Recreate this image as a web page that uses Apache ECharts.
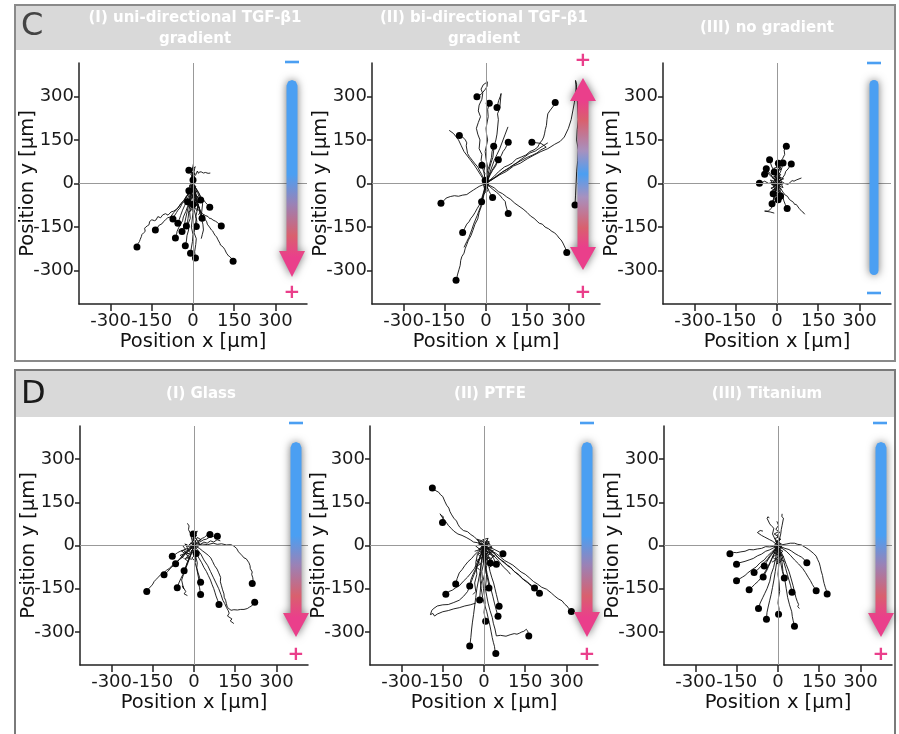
<!DOCTYPE html>
<html lang="en">
<head>
<meta charset="UTF-8">
<title>Cell migration tracks</title>
<script src="https://cdn.jsdelivr.net/npm/echarts@6/dist/echarts.min.js"></script>
<style>
  html, body { margin: 0; padding: 0; background: #fff; }
  #chart { width: 899px; height: 734px; }
</style>
</head>
<body>
<div id="chart"></div>
<script>
// tick values shared by all axes (µm)
var axisTicks = [-300, -150, 0, 150, 300];
var axisRange = 415;

var titlesC = ['(I) uni-directional TGF-β1\ngradient', '(II) bi-directional TGF-β1\ngradient', '(III) no gradient'];
var titlesD = ['(I) Glass', '(II) PTFE', '(III) Titanium'];

// ---- C (I) uni-directional: tracks end with a dot, trails don't
var tracksC1 = [
  [[0,0],[-4,12],[2,22],[-8,30],[-4,36],[-6,40],[-15,46]],
  [[0,0],[-6,-12],[-4,-25],[-15,-35],[-25,-45],[-32,-58],[-45,-70],[-55,-85],[-70,-95],[-80,-98],[-91,-109],[-100,-104],[-110,-108],[-118,-118],[-128,-114],[-135,-126],[-140,-128],[-150,-125],[-158,-131],[-160,-142],[-165,-145],[-172,-150],[-176,-154],[-174,-165],[-180,-170],[-186,-176],[-188,-183],[-192,-192],[-195,-200],[-200,-207],[-198,-213],[-204,-219]],
  [[0,0],[-8,-15],[-15,-30],[-22,-42],[-35,-60],[-44,-70],[-60,-90],[-70,-100],[-82,-115],[-92,-118],[-100,-125],[-108,-132],[-112,-138],[-125,-145],[-130,-154],[-137,-160]],
  [[0,0],[-4,-20],[-8,-40],[-14,-58],[-20,-80],[-26,-96],[-35,-115],[-38,-128],[-45,-140],[-52,-152],[-58,-165],[-60,-176],[-64,-188]],
  [[0,0],[-6,-14],[-12,-30],[-22,-44],[-30,-60],[-40,-70],[-48,-85],[-55,-92],[-60,-100],[-68,-112],[-73,-122]],
  [[0,0],[-5,-50],[-2,-70],[-12,-100],[-10,-120],[-18,-140],[-16,-160],[-22,-180],[-24,-198],[-28,-214]],
  [[0,0],[4,-50],[-2,-75],[0,-100],[-6,-150],[0,-175],[-2,-200],[-6,-222],[-9,-240]],
  [[0,0],[8,-60],[4,-90],[12,-120],[8,-145],[4,-170],[12,-190],[10,-210],[6,-235],[9,-257]],
  [[0,0],[4,-20],[10,-40],[8,-55],[22,-80],[26,-95],[31,-109],[40,-118],[45,-125],[50,-132],[52,-140],[60,-150],[67,-160],[72,-164],[75,-170],[80,-178],[86,-184],[91,-194],[98,-206],[100,-212],[105,-215],[112,-222],[116,-228],[120,-236],[122,-240],[130,-250],[134,-252],[140,-258],[142,-264],[146,-268]],
  [[0,0],[8,-40],[14,-62],[20,-80],[28,-96],[35,-105],[45,-110],[55,-114],[62,-122],[65,-120],[73,-126],[82,-130],[90,-135],[96,-142],[103,-146]],
  [[0,0],[8,-12],[15,-25],[22,-34],[28,-45],[38,-56],[45,-65],[52,-72],[61,-82]],
  [[0,0],[8,-15],[12,-26],[18,-35],[22,-46],[28,-57]],
  [[0,0],[-6,-20],[-4,-30],[-12,-40],[-14,-52],[-20,-63]],
  [[0,0],[6,-40],[12,-60],[18,-80],[14,-98],[10,-115],[14,-130],[12,-148]],
  [[0,0],[12,-40],[15,-58],[20,-75],[24,-98],[33,-120]],
  [[0,0],[-6,-40],[-10,-62],[-14,-90],[-18,-120],[-20,-132],[-24,-146]],
  [[0,0],[-10,-50],[-16,-74],[-22,-100],[-30,-135],[-34,-150],[-40,-165]],
  [[0,0],[-15,-40],[-22,-58],[-30,-75],[-38,-92],[-45,-110],[-50,-124],[-55,-137]],
  [[0,0],[-6,-10],[-12,-5],[-15,-25]],
  [[0,0],[5,-12],[-4,-22],[3,-34],[-3,-48],[6,-60],[0,-72]],
  [[0,0],[-3,10],[4,18],[-2,26],[0,12]]
];
var trailsC1 = [
  [[0,0],[6,15],[4,24],[10,30],[16,43],[20,35],[24,40],[30,40],[38,36],[45,38],[55,35],[63,36]],
  [[0,0],[10,-15],[20,-30],[28,-50],[35,-70],[32,-95],[30,-120],[36,-140],[38,-160],[34,-175],[30,-190]],
  [[0,0],[5,10],[-2,25],[3,40],[-1,55],[2,70]],
  [[0,0],[5,15],[-3,30],[4,45],[-2,55],[3,35],[-5,20],[2,8]],
  [[0,0],[3,-20],[-6,-35],[5,-55],[-2,-70],[8,-85],[15,-95]],
  [[0,0],[-4,-12],[6,-25],[-2,-40],[10,-52],[4,-64],[16,-75]],
  [[0,0],[4,8],[-5,14],[3,22],[-4,30],[2,12],[-3,-8]],
  [[0,0],[-8,6],[6,14],[-6,24],[8,32],[-4,40],[6,20],[-10,-6],[8,-14],[-6,-24],[10,-30]],
  [[0,0],[10,-10],[-4,-18],[14,-28],[0,-36],[18,-46],[6,-56],[22,-64],[10,-74],[24,-84]],
  [[0,0],[-10,-12],[4,-24],[-12,-34],[2,-46],[-14,-56],[0,-66],[-16,-78],[-4,-90],[-18,-100]],
  [[0,0],[6,-30],[16,-48],[8,-62],[20,-74],[14,-88],[28,-96],[20,-108]],
  [[0,0],[-4,20],[6,34],[-2,48],[8,58],[0,30],[10,10],[-6,-4]]
];

// ---- C (II) bi-directional
var tracksC2 = [
  [[0,0],[-8,40],[-4,60],[-18,80],[-15,100],[-25,120],[-22,150],[-30,170],[-35,190],[-28,210],[-20,230],[-28,250],[-25,270],[-15,290],[-12,310],[-18,325],[-10,340],[5,350],[4,335],[-2,325],[-15,310],[-22,305],[-33,299]],
  [[0,0],[5,60],[0,85],[-3,110],[6,150],[2,170],[0,190],[8,230],[6,255],[12,276]],
  [[0,0],[12,50],[18,70],[25,90],[30,130],[36,150],[40,170],[45,220],[42,240],[50,260],[55,310],[52,300],[46,285],[40,262]],
  [[0,0],[30,25],[45,40],[67,57],[80,62],[95,70],[110,84],[128,91],[145,98],[160,110],[175,116],[188,125],[195,138],[205,150],[210,160],[213,171],[216,186],[220,200],[222,220],[225,240],[232,250],[240,260],[248,270],[252,279]],
  [[0,0],[-15,30],[-22,42],[-30,57],[-42,70],[-50,80],[-60,92],[-67,103],[-72,130],[-70,140],[-75,150],[-85,160],[-97,165]],
  [[0,0],[8,30],[5,45],[12,60],[20,90],[22,110],[28,128]],
  [[0,0],[15,30],[24,45],[35,60],[44,80],[55,95],[62,110],[70,120],[76,132],[81,142]],
  [[0,0],[40,25],[60,40],[80,50],[100,64],[120,75],[150,90],[170,98],[185,105],[200,116],[219,125],[210,132],[200,138],[185,140],[167,142]],
  [[0,0],[12,25],[18,40],[25,50],[35,66],[45,82]],
  [[0,0],[-6,25],[-4,35],[-10,45],[-15,63]],
  [[0,0],[-25,-10],[-35,-16],[-45,-22],[-58,-30],[-70,-38],[-85,-40],[-100,-44],[-115,-42],[-130,-45],[-145,-50],[-150,-56],[-155,-60],[-164,-68]],
  [[0,0],[-4,-20],[-2,-30],[-10,-40],[-16,-63]],
  [[0,0],[8,-20],[12,-28],[16,-35],[24,-48]],
  [[0,0],[25,-20],[38,-30],[50,-40],[60,-52],[70,-62],[72,-74],[75,-85],[81,-103]],
  [[0,0],[-12,-40],[-18,-58],[-25,-75],[-32,-86],[-40,-100],[-48,-112],[-55,-120],[-62,-132],[-70,-140],[-78,-155],[-85,-169]],
  [[0,0],[-10,-50],[-16,-76],[-25,-100],[-30,-122],[-40,-140],[-48,-162],[-55,-180],[-64,-195],[-70,-210],[-76,-225],[-80,-240],[-88,-252],[-92,-265],[-94,-282],[-98,-295],[-104,-315],[-106,-325],[-109,-333]],
  [[0,0],[30,-15],[45,-28],[60,-35],[75,-46],[90,-55],[105,-68],[120,-78],[135,-88],[150,-100],[162,-112],[175,-120],[186,-130],[194,-137],[205,-140],[215,-150],[228,-156],[240,-165],[250,-170],[260,-180],[266,-188],[273,-194],[280,-205],[285,-215],[290,-225],[294,-238]],
  [[0,0],[50,30],[75,42],[100,60],[125,70],[150,85],[175,98],[200,110],[225,120],[250,135],[270,145],[285,160],[300,190],[310,220],[316,250],[322,280],[326,310],[330,340],[326,355],[328,330],[332,300],[334,260],[336,220],[332,185],[330,150],[336,115],[334,80],[330,40],[328,0],[326,-40],[324,-74]],
  [[0,0],[-5,12],[4,25],[-3,10]]
];
var trailsC2 = [
  [[0,0],[-10,-40],[-20,-80],[-32,-110],[-45,-140],[-52,-160],[-62,-185],[-70,-200],[-80,-220]],
  [[0,0],[30,20],[60,40],[85,55],[110,70],[135,88],[160,105],[180,112],[200,125],[225,140]],
  [[0,0],[-20,30],[-40,60],[-60,85],[-80,110],[-90,130],[-100,150],[-118,172],[-134,183]],
  [[0,0],[15,40],[30,80],[40,100],[50,120],[62,150],[70,170],[80,195]],
  [[0,0],[8,-10],[-6,-18],[4,-28],[-8,-12],[6,4],[-4,10]],
  [[0,0],[-4,8],[6,16],[-2,-10],[8,-20],[0,-30]],
  [[0,0],[10,-4],[-8,6],[12,12],[-10,-8],[6,-14],[-12,2],[8,20],[-6,-22]]
];

// ---- C (III) no gradient
var tracksC3 = [
  [[0,0],[8,20],[5,45],[15,60],[10,72],[20,85],[28,100],[26,115],[34,128]],
  [[0,0],[-8,20],[-6,32],[-12,45],[-20,60],[-27,82]],
  [[0,0],[-10,15],[-22,30],[-30,40],[-39,51]],
  [[0,0],[-15,5],[-30,0],[-45,8],[-55,3],[-64,1]],
  [[0,0],[8,18],[4,28],[12,38],[18,55],[22,71]],
  [[0,0],[15,12],[28,30],[32,42],[40,50],[52,67]],
  [[0,0],[8,-20],[20,-40],[25,-60],[30,-72],[37,-86]],
  [[0,0],[-4,-20],[-10,-40],[-12,-55],[-18,-70]],
  [[0,0],[4,-15],[8,-30],[13,-43]],
  [[0,0],[10,25],[0,40],[12,55],[5,70]],
  [[0,0],[-12,-12],[-5,-25],[-14,-35]],
  [[0,0],[-8,12],[-18,22],[-28,30],[-34,40],[-45,32]],
  [[0,0],[6,-10],[-4,-22],[6,-34],[-2,-48],[4,-56]],
  [[0,0],[-6,8],[4,16],[-8,24],[2,34],[-10,40]]
];
var trailsC3 = [
  [[0,0],[15,-20],[22,-30],[30,-40],[38,-44],[45,-55],[60,-65],[64,-72],[70,-72],[80,-85],[84,-90],[90,-95],[94,-98],[101,-106]],
  [[0,0],[20,5],[28,0],[40,-3],[55,10],[62,8],[70,12],[89,19]],
  [[0,0],[-6,-30],[-15,-60],[-20,-85],[-32,-95],[-45,-95],[-25,-98],[-10,-102]],
  [[0,0],[6,12],[-6,20],[8,30],[-4,42],[10,52],[-2,60],[6,40],[-8,25],[4,10]],
  [[0,0],[-6,-8],[8,-16],[-8,-26],[6,-36],[-6,-44],[4,-20],[-4,-6]],
  [[0,0],[10,6],[-10,12],[12,18],[-6,24],[8,-6],[-12,-4],[10,-14]],
  [[0,0],[4,20],[-6,36],[2,50],[10,64],[0,78]],
  [[0,0],[-4,-14],[10,-30],[-2,-40],[12,-50],[2,-62]],
  [[0,0],[-14,4],[-4,14],[-18,20],[-2,28],[-16,36],[0,44],[-12,52],[4,58]],
  [[0,0],[14,-4],[2,-12],[16,-20],[4,-28],[18,-36],[6,-44],[20,-52],[8,-60]],
  [[0,0],[-12,-6],[-2,-16],[-16,-24],[-4,-34],[-18,-40],[-6,-50],[-14,-58]],
  [[0,0],[12,8],[0,20],[14,30],[2,42],[16,50],[4,60],[18,66]],
  [[0,0],[-20,-4],[-10,8],[-24,12],[-8,-10],[-22,-16],[-6,-24],[-20,4]],
  [[0,0],[18,2],[6,-8],[22,-14],[8,10],[24,16],[10,22],[20,-4]]
];

// ---- D (I) Glass
var tracksD1 = [
  [[0,0],[15,10],[25,14],[35,20],[45,22],[55,28],[70,32],[85,32]],
  [[0,0],[15,15],[30,25],[38,28],[45,35],[58,38]],
  [[0,0],[30,5],[50,3],[70,8],[85,4],[100,6],[118,2],[134,3],[145,-2],[155,-10],[162,-22],[170,-30],[176,-36],[182,-43],[190,-46],[200,-60],[204,-70],[205,-80],[212,-92],[210,-100],[214,-112],[215,-120],[210,-126],[212,-132]],
  [[0,0],[20,-10],[30,-18],[40,-25],[52,-34],[61,-43],[68,-56],[75,-70],[84,-82],[90,-95],[97,-111],[96,-126],[100,-140],[104,-154],[109,-168],[110,-180],[115,-190],[118,-202],[121,-214],[128,-220],[135,-225],[145,-223],[158,-224],[170,-222],[182,-222],[194,-219],[202,-214],[210,-210],[216,-202],[221,-197]],
  [[0,0],[10,-30],[18,-44],[28,-60],[36,-76],[45,-90],[52,-104],[60,-120],[66,-136],[72,-150],[76,-162],[80,-175],[86,-190],[91,-205]],
  [[0,0],[6,-40],[4,-60],[10,-80],[18,-120],[16,-132],[20,-145],[24,-170]],
  [[0,0],[4,-30],[12,-60],[10,-78],[15,-95],[20,-110],[24,-128]],
  [[0,0],[-10,-30],[-16,-44],[-25,-60],[-35,-90],[-40,-100],[-48,-115],[-55,-130],[-61,-147]],
  [[0,0],[-20,-20],[-30,-26],[-40,-40],[-52,-48],[-65,-60],[-78,-68],[-90,-80],[-100,-86],[-110,-95],[-120,-100],[-130,-110],[-138,-118],[-145,-125],[-150,-134],[-155,-140],[-165,-150],[-172,-160]],
  [[0,0],[-25,-20],[-38,-30],[-50,-45],[-62,-56],[-75,-70],[-85,-78],[-95,-90],[-109,-102]],
  [[0,0],[-20,-10],[-30,-12],[-40,-18],[-50,-20],[-60,-25],[-70,-32],[-79,-37]],
  [[0,0],[-20,-20],[-28,-26],[-40,-35],[-55,-50],[-67,-63]],
  [[0,0],[-10,-25],[-20,-50],[-24,-60],[-28,-70],[-36,-88]],
  [[0,0],[-4,15],[2,28],[-3,40]],
  [[0,0],[5,-10],[-4,-20],[8,-28]]
];
var trailsD1 = [
  [[0,0],[25,-30],[36,-50],[50,-70],[60,-90],[70,-110],[80,-130],[90,-150],[98,-170],[105,-190],[112,-202],[118,-215],[124,-225],[128,-235],[122,-245],[138,-255],[132,-262],[145,-271]],
  [[0,0],[-8,20],[-12,40],[-20,55],[-18,68],[-24,77]],
  [[0,0],[-15,-40],[-22,-60],[-30,-80],[-38,-100],[-45,-120],[-38,-150],[-42,-140],[-30,-160],[-36,-168],[-24,-174]],
  [[0,0],[8,12],[-6,22],[6,30],[-8,38],[4,24],[-10,10],[2,-8],[-12,-20],[4,-32],[-8,-44],[6,-55]],
  [[0,0],[-12,8],[-22,-4],[-32,6],[-20,-16],[-36,-22],[-16,-30],[-28,-42],[-8,-48]],
  [[0,0],[10,-6],[22,2],[14,14],[26,20],[12,28],[4,10]],
  [[0,0],[-6,10],[-18,2],[-8,-10],[-24,-14],[-12,-26],[-30,-30],[-16,-40],[-34,-46],[-20,-56]],
  [[0,0],[6,16],[-4,26],[10,34],[-2,44],[12,50],[2,30],[14,16]],
  [[0,0],[-16,-6],[-26,4],[-40,-2],[-30,-14],[-46,-18],[-34,-28],[-50,-34],[-38,-44]],
  [[0,0],[12,8],[24,4],[36,12],[48,8],[60,16],[72,12],[84,20],[96,16]]
];

// ---- D (II) PTFE
var tracksD2 = [
  [[0,0],[-15,15],[-25,20],[-35,30],[-48,38],[-60,48],[-75,52],[-88,63],[-95,74],[-100,85],[-110,95],[-119,109],[-124,118],[-128,130],[-136,140],[-143,154],[-150,170],[-158,176],[-165,185],[-175,190],[-188,200]],
  [[0,0],[-25,10],[-38,12],[-50,20],[-65,28],[-80,35],[-95,40],[-110,50],[-120,60],[-130,70],[-140,84],[-150,95],[-160,110],[-155,104],[-148,100],[-151,80]],
  [[0,0],[20,-8],[30,-10],[40,-15],[55,-22],[69,-29]],
  [[0,0],[-20,-20],[-32,-30],[-45,-45],[-58,-56],[-70,-70],[-80,-84],[-90,-95],[-98,-115],[-103,-134]],
  [[0,0],[-15,-40],[-24,-58],[-35,-80],[-48,-96],[-60,-110],[-75,-124],[-90,-140],[-102,-146],[-115,-155],[-128,-160],[-139,-169]],
  [[0,0],[-10,-30],[-18,-50],[-25,-70],[-32,-84],[-40,-100],[-48,-120],[-52,-141]],
  [[0,0],[4,-30],[10,-70],[6,-90],[12,-110],[16,-130],[18,-148]],
  [[0,0],[-4,-40],[-2,-64],[-8,-90],[-6,-115],[-12,-140],[-14,-164],[-16,-189]],
  [[0,0],[10,-40],[16,-64],[22,-90],[28,-110],[35,-130],[40,-150],[45,-170],[50,-190],[55,-211]],
  [[0,0],[6,-50],[4,-76],[12,-100],[18,-126],[25,-150],[32,-176],[38,-200],[44,-222],[51,-246]],
  [[0,0],[-2,-50],[4,-76],[2,-100],[-4,-124],[-2,-150],[2,-176],[4,-200],[0,-232],[6,-263]],
  [[0,0],[20,-15],[30,-20],[40,-30],[50,-42],[62,-50],[75,-58],[85,-70],[98,-78],[110,-90],[125,-102],[140,-115],[152,-122],[165,-132],[175,-140],[184,-148]],
  [[0,0],[25,-20],[38,-28],[50,-40],[65,-54],[80,-65],[95,-74],[110,-90],[128,-102],[145,-120],[160,-130],[175,-145],[190,-154],[202,-166]],
  [[0,0],[30,-20],[45,-28],[60,-40],[75,-52],[90,-60],[105,-68],[120,-80],[135,-92],[150,-100],[165,-112],[180,-125],[195,-134],[210,-145],[228,-152],[245,-165],[258,-176],[270,-185],[284,-192],[295,-205],[302,-210],[308,-218],[312,-224],[318,-229]],
  [[0,0],[5,-40],[2,-64],[10,-90],[8,-120],[5,-150],[10,-176],[15,-200],[22,-226],[30,-250],[34,-270],[40,-290],[45,-314],[60,-312],[80,-315],[95,-310],[110,-306],[120,-308],[130,-304],[138,-300],[145,-298],[150,-294],[154,-291],[158,-296],[160,-300],[163,-314]],
  [[0,0],[-10,-60],[-14,-90],[-20,-120],[-26,-150],[-30,-180],[-34,-210],[-38,-240],[-42,-266],[-45,-290],[-48,-320],[-50,-336],[-52,-349]],
  [[0,0],[-10,-60],[-12,-90],[-14,-120],[-10,-150],[-5,-180],[2,-206],[10,-230],[16,-256],[22,-280],[26,-300],[30,-320],[34,-336],[38,-350],[40,-364],[43,-375]],
  [[0,0],[10,-20],[14,-32],[18,-40],[23,-61]],
  [[0,0],[20,-20],[28,-34],[35,-45],[45,-65]]
];
var trailsD2 = [
  [[0,0],[-20,-60],[-30,-86],[-40,-110],[-50,-136],[-60,-160],[-74,-176],[-90,-190],[-110,-198],[-130,-205],[-150,-206],[-170,-210],[-182,-218],[-190,-225],[-195,-240],[-186,-236],[-180,-245],[-170,-238],[-150,-230],[-130,-226],[-110,-220],[-90,-216],[-70,-210],[-50,-206],[-30,-200]],
  [[0,0],[10,10],[-5,20],[15,25],[5,5],[-10,-5]],
  [[0,0],[-10,-6],[8,-14],[-14,-22],[10,-30],[-8,-40],[12,-48],[-4,-58],[14,-20],[-16,4],[6,12]],
  [[0,0],[20,6],[-6,14],[30,-8],[-20,-12],[24,-24],[-10,-32],[18,-44],[-4,-50]],
  [[0,0],[-24,-30],[-30,-60],[-26,-100],[-34,-130],[-30,-160],[-40,-170]],
  [[0,0],[30,-30],[50,-50],[70,-74],[88,-90],[96,-100]],
  [[0,0],[-16,-10],[-4,-22],[-22,-30],[-8,-44],[-28,-52],[-12,-64],[-30,-74],[-16,-84]],
  [[0,0],[16,-6],[4,-18],[22,-26],[10,-38],[28,-46],[14,-58],[32,-66],[18,-78]],
  [[0,0],[-20,10],[-6,16],[-26,22],[-12,4],[-30,-2],[-14,-14],[-34,-20]],
  [[0,0],[20,12],[8,18],[28,-4],[14,-12],[34,-18],[18,-30],[38,-36],[24,-46]]
];

// ---- D (III) Titanium
var tracksD3 = [
  [[0,0],[-30,-5],[-45,-4],[-60,-10],[-75,-12],[-90,-15],[-105,-14],[-120,-20],[-135,-22],[-150,-25],[-162,-24],[-175,-29]],
  [[0,0],[-30,-15],[-45,-20],[-60,-30],[-75,-36],[-90,-45],[-105,-50],[-120,-55],[-140,-60],[-151,-65]],
  [[0,0],[-25,-25],[-38,-36],[-50,-50],[-65,-60],[-80,-75],[-95,-84],[-110,-95],[-120,-104],[-130,-110],[-151,-122]],
  [[0,0],[-20,-25],[-30,-36],[-40,-50],[-50,-58],[-60,-70],[-75,-85],[-87,-94]],
  [[0,0],[-15,-20],[-22,-30],[-30,-40],[-42,-58],[-50,-71]],
  [[0,0],[-20,-40],[-30,-60],[-40,-80],[-50,-96],[-60,-110],[-72,-124],[-85,-135],[-95,-145],[-105,-154]],
  [[0,0],[-15,-30],[-22,-46],[-28,-60],[-34,-72],[-40,-85],[-54,-109]],
  [[0,0],[-10,-50],[-16,-76],[-25,-100],[-30,-124],[-40,-150],[-48,-166],[-55,-180],[-65,-200],[-71,-219]],
  [[0,0],[-5,-60],[-10,-90],[-15,-120],[-20,-146],[-25,-170],[-30,-190],[-35,-210],[-40,-232],[-42,-256]],
  [[0,0],[5,-50],[2,-76],[0,-100],[4,-130],[6,-160],[2,-180],[0,-200],[4,-220],[2,-239]],
  [[0,0],[8,-30],[12,-46],[15,-60],[18,-90],[23,-113]],
  [[0,0],[15,-40],[22,-60],[28,-80],[34,-100],[40,-120],[46,-140],[51,-162]],
  [[0,0],[25,-10],[40,-14],[50,-20],[62,-28],[75,-35],[85,-40],[95,-48],[105,-60]],
  [[0,0],[30,-20],[45,-34],[60,-50],[75,-64],[90,-80],[100,-94],[110,-110],[118,-122],[125,-135],[132,-146],[139,-157]],
  [[0,0],[30,5],[45,8],[60,8],[72,4],[85,2],[95,-4],[102,-8],[112,-14],[120,-20],[130,-28],[139,-37],[144,-48],[150,-60],[154,-74],[157,-88],[162,-104],[165,-120],[168,-132],[172,-145],[176,-156],[179,-168]],
  [[0,0],[10,-60],[16,-90],[25,-120],[30,-150],[35,-180],[42,-206],[50,-230],[52,-246],[55,-260],[60,-280]]
];
var trailsD3 = [
  [[0,0],[20,-40],[30,-66],[40,-90],[48,-116],[55,-140],[60,-160],[65,-180],[70,-194],[75,-205],[72,-212],[78,-219]],
  [[0,0],[-20,15],[-30,20],[-40,25],[-50,30],[-60,35],[-75,45],[-65,52],[-55,50]],
  [[0,0],[10,40],[12,56],[15,70],[20,95],[14,100],[15,110]],
  [[0,0],[-10,20],[-20,40],[-15,60],[-22,66],[-30,75],[-40,95],[-36,100],[-32,95]],
  [[0,0],[-10,-8],[6,-18],[-12,-26],[8,-36],[-8,-46],[10,-56],[-4,-64],[6,-30],[-10,-12]],
  [[0,0],[12,6],[-8,14],[10,22],[-12,4],[14,-8],[-6,-20],[12,-30],[-2,-40]],
  [[0,0],[-6,10],[8,22],[-4,34],[6,46],[-8,56],[2,70],[-4,84]],
  [[0,0],[-14,-4],[-2,-14],[-18,-22],[-6,-32],[-20,-40],[-8,-50],[-22,-58]],
  [[0,0],[14,-2],[4,-12],[18,-20],[6,-30],[20,-38],[10,-48],[24,-56]],
  [[0,0],[-8,14],[6,8],[-12,24],[4,30],[-14,40],[2,48]]
];

var panels = [
  { tracks: tracksC1, trails: trailsC1, left: 79,  top: 63,  height: 241 },
  { tracks: tracksC2, trails: trailsC2, left: 372, top: 63,  height: 241 },
  { tracks: tracksC3, trails: trailsC3, left: 663, top: 63,  height: 241 },
  { tracks: tracksD1, trails: trailsD1, left: 80,  top: 426, height: 239 },
  { tracks: tracksD2, trails: trailsD2, left: 370, top: 426, height: 239 },
  { tracks: tracksD3, trails: trailsD3, left: 664, top: 426, height: 239 }
];

var FONT = '"DejaVu Sans", "Liberation Sans", Arial, sans-serif';
var BLUE = '#4b9ff2', PINK = '#ea3f8b';

var grids = [], xAxes = [], yAxes = [], series = [];
panels.forEach(function (p, i) {
  grids.push({ left: p.left, top: p.top, width: 228, height: p.height });
  xAxes.push({
    gridIndex: i, type: 'value', min: -axisRange, max: axisRange,
    axisLine: { onZero: false, lineStyle: { color: '#222', width: 1.5 } },
    axisTick: { length: 7, customValues: axisTicks, lineStyle: { color: '#222', width: 1.5 } },
    axisLabel: { customValues: axisTicks, margin: 8, fontSize: 18, fontFamily: FONT, color: '#1a1a1a' },
    splitLine: { show: false },
    name: 'Position x [µm]', nameLocation: 'middle', nameGap: 28, nameMoveOverlap: false,
    nameTextStyle: { fontSize: 19.5, fontFamily: FONT, color: '#111' }
  });
  yAxes.push({
    gridIndex: i, type: 'value', min: -axisRange, max: axisRange,
    axisLine: { onZero: false, lineStyle: { color: '#222', width: 1.5 } },
    axisTick: { length: 5, customValues: axisTicks, lineStyle: { color: '#222', width: 1.5 } },
    axisLabel: { customValues: axisTicks, margin: 5, fontSize: 18, fontFamily: FONT, color: '#1a1a1a' },
    splitLine: { show: false },
    name: 'Position y [µm]', nameLocation: 'middle', nameGap: 41, nameMoveOverlap: false,
    nameTextStyle: { fontSize: 19.5, fontFamily: FONT, color: '#111' }
  });
  // zero cross lines
  series.push({
    type: 'scatter', xAxisIndex: i, yAxisIndex: i, z: 1, silent: true,
    symbolSize: 0, data: [[0, 0]],
    markLine: {
      silent: true, symbol: 'none', label: { show: false },
      lineStyle: { color: '#999', width: 1, type: 'solid' },
      data: [{ xAxis: 0 }, { yAxis: 0 }]
    }
  });
  series.push({
    type: 'lines', coordinateSystem: 'cartesian2d', xAxisIndex: i, yAxisIndex: i,
    polyline: true, silent: true, z: 3,
    lineStyle: { color: '#0d0d0d', width: 1, opacity: 0.9 },
    data: p.tracks.concat(p.trails).map(function (t) { return { coords: t }; })
  });
  series.push({
    type: 'scatter', xAxisIndex: i, yAxisIndex: i, z: 4, silent: true,
    symbolSize: 7, itemStyle: { color: '#000', opacity: 1 },
    data: p.tracks.map(function (t) { return t[t.length - 1]; })
  });
});

// --- decorations: frames, headers, gradient arrows
function downArrow(cx, top, base, tip) {
  var s = 5.5, h = 13;
  return [[cx - s, top + s], [cx - s * 0.7, top + 1.6], [cx, top], [cx + s * 0.7, top + 1.6], [cx + s, top + s],
          [cx + s, base], [cx + h, base], [cx, tip], [cx - h, base], [cx - s, base]];
}
function doubleArrow(cx, tipTop, baseTop, baseBot, tipBot) {
  var s = 5.5, h = 13;
  return [[cx, tipTop], [cx + h, baseTop], [cx + s, baseTop], [cx + s, baseBot], [cx + h, baseBot], [cx, tipBot],
          [cx - h, baseBot], [cx - s, baseBot], [cx - s, baseTop], [cx - h, baseTop]];
}
var downGrad = { type: 'linear', x: 0, y: 0, x2: 0, y2: 1, colorStops: [
  { offset: 0, color: BLUE }, { offset: 0.48, color: BLUE }, { offset: 0.63, color: '#9a82b6' },
  { offset: 0.79, color: '#d9606e' }, { offset: 0.9, color: PINK }, { offset: 1, color: PINK }] };
var biGrad = { type: 'linear', x: 0, y: 0, x2: 0, y2: 1, colorStops: [
  { offset: 0, color: PINK }, { offset: 0.12, color: PINK }, { offset: 0.22, color: '#d9606e' },
  { offset: 0.38, color: '#a791bf' }, { offset: 0.5, color: BLUE }, { offset: 0.62, color: '#a791bf' },
  { offset: 0.78, color: '#d9606e' }, { offset: 0.88, color: PINK }, { offset: 1, color: PINK }] };
var shadow = { shadowBlur: 8, shadowColor: 'rgba(0,0,0,0.55)' };

function arrowEl(points, fill) {
  return { type: 'polygon', z: 100, silent: true, shape: { points: points },
    style: Object.assign({ fill: fill }, shadow) };
}
function minus(cx, y) {
  return { type: 'rect', z: 100, silent: true, shape: { x: cx - 7, y: y - 1.3, width: 14, height: 2.6 }, style: { fill: BLUE } };
}
function plus(cx, y) {
  return { type: 'text', z: 100, silent: true, style: { text: '+', x: cx, y: y, fill: PINK,
    font: 'bold 20px ' + FONT, align: 'center', verticalAlign: 'middle' } };
}
function title(txt, cx, y) {
  return { type: 'text', z: 10, silent: true, style: { text: txt, x: cx, y: y, fill: '#fff',
    font: 'bold 15px ' + FONT, align: 'center', verticalAlign: 'top', lineHeight: 21 } };
}

var graphics = [
  { type: 'rect', z: 0, shape: { x: 16, y: 6, width: 878, height: 44 }, style: { fill: '#d9d9d9' } },
  { type: 'rect', z: 0, shape: { x: 16, y: 371, width: 878, height: 46 }, style: { fill: '#d9d9d9' } },
  { type: 'rect', z: 1, shape: { x: 15, y: 5, width: 880, height: 356 }, style: { fill: 'none', stroke: '#8a8a8a', lineWidth: 2 } },
  { type: 'rect', z: 1, shape: { x: 15, y: 370, width: 880, height: 380 }, style: { fill: 'none', stroke: '#7a7a7a', lineWidth: 2 } },
  { type: 'text', z: 10, style: { text: 'C', x: 21, y: 27, fill: '#444', font: '32px ' + FONT, verticalAlign: 'middle' } },
  { type: 'text', z: 10, style: { text: 'D', x: 21, y: 395, fill: '#1a1a1a', font: '32px ' + FONT, verticalAlign: 'middle' } },
  title(titlesC[0], 195, 8), title(titlesC[1], 484, 8), title(titlesC[2], 767, 18),
  title(titlesD[0], 201, 384), title(titlesD[1], 490, 384), title(titlesD[2], 767, 384),
  // C arrows
  arrowEl(downArrow(292, 80, 251, 277), downGrad), minus(292, 62), plus(292, 293),
  arrowEl(doubleArrow(583, 78, 101, 247, 270), biGrad), plus(583, 61), plus(583, 293),
  { type: 'rect', z: 100, silent: true, shape: { x: 869.5, y: 80, width: 9, height: 195, r: 4.5 },
    style: Object.assign({ fill: BLUE }, shadow) },
  minus(874, 63), minus(874, 293),
  // D arrows
  arrowEl(downArrow(296, 442, 613, 637), downGrad), minus(296, 423), plus(296, 655),
  arrowEl(downArrow(587, 442, 612, 637), downGrad), minus(587, 423), plus(587, 655),
  arrowEl(downArrow(881, 442, 613, 637), downGrad), minus(880, 423), plus(881, 655)
];

var chart = echarts.init(document.getElementById('chart'));
chart.setOption({
  animation: false,
  backgroundColor: '#fff',
  grid: grids,
  xAxis: xAxes,
  yAxis: yAxes,
  series: series,
  graphic: graphics
});
</script>
</body>
</html>
